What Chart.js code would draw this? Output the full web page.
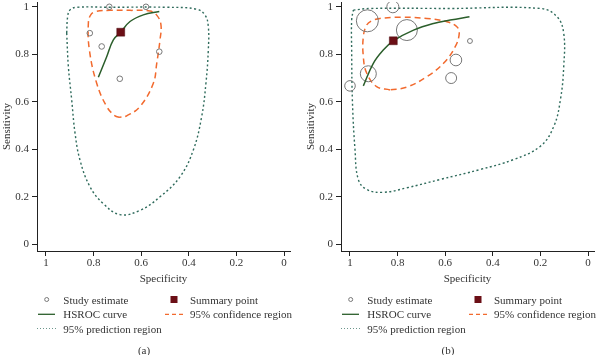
<!DOCTYPE html>
<html lang="en">
<head>
<meta charset="UTF-8">
<title>HSROC plots</title>
<script src="https://cdn.jsdelivr.net/npm/chart.js@4.4.0/dist/chart.umd.min.js"></script>
<style>
    body { margin: 0; width: 596px; height: 355px; background: #fff; position: relative; overflow: hidden;
           font-family: "Liberation Serif", "DejaVu Serif", serif; color: #333; }
    .panel { position: absolute; top: 0; height: 290px; }
    .lg { position: absolute; font-size: 11px; line-height: 14px; white-space: nowrap; }
    #marks { position: absolute; left: 0; top: 0; }
</style>
</head>
<body>
<div class="panel" style="left:0;width:300px"><canvas id="chartA" width="300" height="290"></canvas></div>
<div class="panel" style="left:304px;width:292px"><canvas id="chartB" width="292" height="290"></canvas></div>
<svg id="marks" width="596" height="355"></svg>
<div id="legend"></div>

<script>
    // axis ticks
    var tickVals = [0, 0.2, 0.4, 0.6, 0.8, 1];
    var tickLabels = ['0', '0.2', '0.4', '0.6', '0.8', '1'];

    // panel (a)
    var studySpecA = [0.734, 0.580, 0.816, 0.766, 0.524, 0.690];
    var studySensA = [1.000, 1.000, 0.889, 0.833, 0.811, 0.697];
    var summarySpecA = 0.686, summarySensA = 0.893;
    var hsrocSpecA = [0.780, 0.745, 0.717, 0.686, 0.647, 0.591, 0.524];
    var hsrocSensA = [0.703, 0.790, 0.861, 0.893, 0.938, 0.966, 0.980];
    var confSpecA = [0.689, 0.710, 0.745, 0.787, 0.818, 0.822, 0.812, 0.790, 0.731, 0.647, 0.563, 0.534, 0.517, 0.521, 0.535, 0.549, 0.605, 0.661, 0.689];
    var confSensA = [0.535, 0.541, 0.580, 0.678, 0.820, 0.931, 0.966, 0.980, 0.985, 0.985, 0.982, 0.964, 0.924, 0.861, 0.760, 0.678, 0.580, 0.541, 0.535];
    var predSpecA = [0.913, 0.906, 0.892, 0.878, 0.857, 0.815, 0.761, 0.689, 0.605, 0.521, 0.437, 0.381, 0.346, 0.328, 0.318, 0.318, 0.332, 0.367, 0.493, 0.731, 0.871, 0.899, 0.909, 0.913];
    var predSensA = [0.890, 0.748, 0.608, 0.468, 0.354, 0.242, 0.173, 0.125, 0.143, 0.200, 0.284, 0.397, 0.537, 0.678, 0.819, 0.917, 0.966, 0.990, 0.998, 0.998, 0.998, 0.987, 0.959, 0.890];

    // panel (b)
    var studySpecB = [0.820, 0.927, 0.761, 0.496, 0.555, 0.575, 0.923, 1.000];
    var studySensB = [1.000, 0.941, 0.902, 0.856, 0.776, 0.700, 0.718, 0.667];
    var studyWeightB = [36, 121, 110, 6, 34, 30, 64, 28];
    var summarySpecB = 0.818, summarySensB = 0.857;
    var hsrocSpecB = [0.944, 0.902, 0.860, 0.818, 0.733, 0.649, 0.579, 0.498];
    var hsrocSensB = [0.667, 0.762, 0.818, 0.857, 0.902, 0.930, 0.944, 0.958];
    var confSpecB = [0.832, 0.888, 0.930, 0.944, 0.944, 0.930, 0.909, 0.874, 0.789, 0.677, 0.593, 0.551, 0.541, 0.558, 0.607, 0.677, 0.761, 0.832];
    var confSensB = [0.650, 0.664, 0.721, 0.790, 0.874, 0.923, 0.941, 0.951, 0.956, 0.951, 0.937, 0.916, 0.888, 0.832, 0.762, 0.706, 0.662, 0.650];
    var predSpecB = [0.986, 0.916, 0.579, 0.200, 0.130, 0.102, 0.102, 0.116, 0.144, 0.200, 0.312, 0.453, 0.621, 0.761, 0.860, 0.930, 0.965, 0.979, 0.990, 0.993, 0.993, 0.986];
    var predSensB = [0.986, 0.993, 0.993, 0.993, 0.958, 0.888, 0.748, 0.608, 0.496, 0.413, 0.357, 0.315, 0.273, 0.238, 0.219, 0.231, 0.273, 0.399, 0.608, 0.818, 0.944, 0.986];

    var grey = '#777777', maroon = '#6b0f16', green = '#2b5e2b', orange = '#f26a2e', teal = '#2f6b5c';
    var fontFam = '"Liberation Serif", "DejaVu Serif", serif';

    function pts(xs, ys) {
        return xs.map(function (x, i) { return { x: x, y: ys[i] }; });
    }

    function axis(title, min, max, horiz) {
        return {
            type: 'linear',
            min: min,
            max: max,
            reverse: horiz,
            afterBuildTicks: function (s) { s.ticks = tickVals.map(function (v) { return { value: v }; }); },
            afterFit: function (s) {
                if (horiz) s.height = 39; else s.width = 37;
                s.paddingTop = 0; s.paddingBottom = 0; s.paddingLeft = 0; s.paddingRight = 0;
            },
            ticks: {
                autoSkip: false, maxRotation: 0, padding: horiz ? 1 : 3, color: '#333',
                font: { family: fontFam, size: 11 },
                callback: function (v) { return tickLabels[tickVals.indexOf(v)]; }
            },
            grid: { drawOnChartArea: false, drawTicks: true, tickLength: 5, tickColor: '#222', tickWidth: 1 },
            border: { display: true, color: '#222', width: 1 },
            title: {
                display: true, text: title, color: '#333', font: { family: fontFam, size: 11 },
                padding: horiz ? { top: 0, bottom: 4 } : { top: 1, bottom: 0 }
            }
        };
    }

    function makeChart(id, p, rightPad) {
        var ctx = document.getElementById(id).getContext('2d');
        return new Chart(ctx, {
            type: 'scatter',
            data: {
                datasets: [{
                    label: 'Summary point',
                    data: [{ x: p.sumSpec, y: p.sumSens }],
                    pointStyle: 'rect', pointRadius: 5.6, backgroundColor: maroon, borderColor: '#4a0a0f', borderWidth: 0.5
                }, {
                    label: 'HSROC curve',
                    data: pts(p.hSpec, p.hSens),
                    showLine: true, borderColor: green, borderWidth: 1.5, pointRadius: 0, tension: 0.4
                }, {
                    label: 'Study estimate',
                    data: pts(p.sSpec, p.sSens),
                    pointStyle: 'circle', pointRadius: p.radius, borderColor: grey, borderWidth: 1,
                    backgroundColor: 'rgba(0,0,0,0)'
                }, {
                    label: '95% confidence region',
                    data: pts(p.cSpec, p.cSens),
                    showLine: true, borderColor: orange, borderDash: [6, 4], borderWidth: 1.5, pointRadius: 0, tension: 0.4
                }, {
                    label: '95% prediction region',
                    data: pts(p.pSpec, p.pSens),
                    showLine: true, borderColor: teal, borderDash: [2, 2.5], borderWidth: 1.4, pointRadius: 0, tension: 0.4
                }]
            },
            options: {
                responsive: false,
                animation: false,
                devicePixelRatio: 1,
                events: [],
                layout: { autoPadding: false, padding: { top: 2, right: rightPad, left: 0, bottom: 0 } },
                plugins: { legend: { display: false }, tooltip: { enabled: false } },
                scales: {
                    x: axis('Specificity', -0.0252, 1.0378, true),
                    y: axis('Sensitivity', -0.0282, 1.0202, false)
                }
            }
        });
    }

    makeChart('chartA', {
        sSpec: studySpecA, sSens: studySensA, radius: 2.8,
        sumSpec: summarySpecA, sumSens: summarySensA,
        hSpec: hsrocSpecA, hSens: hsrocSensA,
        cSpec: confSpecA, cSens: confSensA,
        pSpec: predSpecA, pSens: predSensA
    }, 10);

    makeChart('chartB', {
        sSpec: studySpecB, sSens: studySensB, radius: studyWeightB.map(Math.sqrt),
        sumSpec: summarySpecB, sumSens: summarySensB,
        hSpec: hsrocSpecB, hSens: hsrocSensB,
        cSpec: confSpecB, cSens: confSensB,
        pSpec: predSpecB, pSens: predSensB
    }, 2);

    // legends under each panel
    var svgNS = 'http://www.w3.org/2000/svg';
    var marks = document.getElementById('marks');
    var legend = document.getElementById('legend');

    function svgEl(tag, attrs) {
        var el = document.createElementNS(svgNS, tag);
        for (var k in attrs) el.setAttribute(k, attrs[k]);
        marks.appendChild(el);
    }

    function text(str, x, y, center) {
        var d = document.createElement('div');
        d.className = 'lg';
        d.textContent = str;
        d.style.top = (y - 7) + 'px';
        if (center) { d.style.left = (x - 50) + 'px'; d.style.width = '100px'; d.style.textAlign = 'center'; }
        else d.style.left = x + 'px';
        legend.appendChild(d);
    }

    function drawLegend(ox, caption) {
        var r1 = 299.5, r2 = 314.3, r3 = 328.5;
        svgEl('circle', { cx: ox + 46.7, cy: r1, r: 2, fill: 'none', stroke: grey, 'stroke-width': 1 });
        text('Study estimate', ox + 63.3, r1);
        svgEl('rect', { x: ox + 170.5, y: r1 - 3.5, width: 7, height: 7, fill: maroon });
        text('Summary point', ox + 190, r1);
        svgEl('line', { x1: ox + 38, y1: r2, x2: ox + 55, y2: r2, stroke: green, 'stroke-width': 1.3 });
        text('HSROC curve', ox + 63.3, r2);
        svgEl('line', { x1: ox + 165, y1: r2, x2: ox + 183.5, y2: r2, stroke: orange, 'stroke-width': 1.3, 'stroke-dasharray': '4 3' });
        text('95% confidence region', ox + 190, r2);
        svgEl('line', { x1: ox + 37, y1: r3, x2: ox + 56.5, y2: r3, stroke: teal, 'stroke-width': 1, 'stroke-dasharray': '1 2', opacity: 0.7 });
        text('95% prediction region', ox + 63.3, r3);
        text(caption, ox + 144, 350, true);
    }

    drawLegend(0, '(a)');
    drawLegend(304, '(b)');
</script>
</body>
</html>
